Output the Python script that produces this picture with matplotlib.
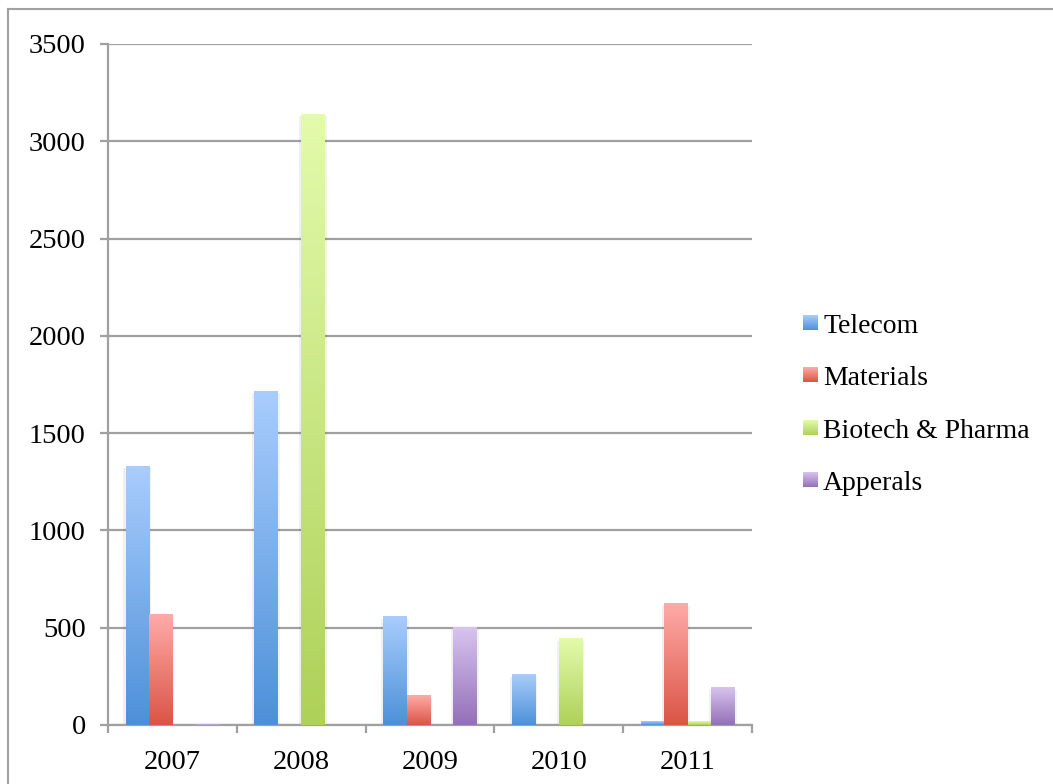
import numpy as np
import matplotlib
matplotlib.use("Agg")
import matplotlib.pyplot as plt
import matplotlib.patheffects as pe
from matplotlib.colors import LinearSegmentedColormap

years = ["2007", "2008", "2009", "2010", "2011"]
series = ["Telecom", "Materials", "Biotech & Pharma", "Apperals"]
telecom = [1331, 1716, 558, 259, 17]
materials = [568, 0, 152, 0, 624]
biotech = [0, 3140, 0, 444, 17]
apperals = [4, 0, 502, 0, 192]
values = [telecom, materials, biotech, apperals]
yticks = [0, 500, 1000, 1500, 2000, 2500, 3000, 3500]

tops = ["#a9cdfd", "#ffaba8", "#e3fbac", "#d8c4ef"]
bottoms = ["#4d90d8", "#db5446", "#aed158", "#9370b7"]

FONT = "Liberation Serif"
FS = 20.5

W, H = 1053, 784
fig = plt.figure(figsize=(W / 100, H / 100), dpi=100)
fig.patch.set_facecolor("white")

# outer frame (top and left visible)
fig.add_artist(plt.Line2D([8 / W, 1], [1 - 9 / H, 1 - 9 / H], color="#a0a0a0", lw=1.5, transform=fig.transFigure))
fig.add_artist(plt.Line2D([8 / W, 8 / W], [0, 1 - 9 / H], color="#a0a0a0", lw=1.5, transform=fig.transFigure))

ax = fig.add_axes([108 / W, 59 / H, (752 - 108) / W, (740 - 59) / H])
ax.set_xlim(-0.5, len(years) - 0.5)
ax.set_ylim(0, 3500)
ax.set_axisbelow(True)

grid_c = "#a0a0a0"
ax.yaxis.grid(True, color=grid_c, lw=1.6)
for s in ["top", "right"]:
    ax.spines[s].set_visible(False)
for s in ["left", "bottom"]:
    ax.spines[s].set_color(grid_c)
    ax.spines[s].set_linewidth(1.6)

ax.set_yticks(yticks)
ax.set_yticklabels([str(v) for v in yticks], fontfamily=FONT, fontsize=FS)
ax.set_xticks(np.arange(len(years) + 1) - 0.5)
ax.set_xticklabels([])
ax.set_xticks(np.arange(len(years)), minor=True)
ax.set_xticklabels(years, minor=True, fontfamily=FONT, fontsize=FS)
ax.tick_params(axis="x", which="major", length=6, width=1.6, color=grid_c, direction="out")
ax.tick_params(axis="x", which="minor", length=0, pad=18)
ax.tick_params(axis="y", length=6, width=1.6, color=grid_c, direction="out", pad=10)

x = np.arange(len(years))
w = 0.182
grad = np.linspace(0, 1, 256).reshape(-1, 1)
for i, (vals, name) in enumerate(zip(values, series)):
    cmap = LinearSegmentedColormap.from_list(name, [bottoms[i], tops[i]])
    bars = ax.bar(x + (i - 1.5) * w, vals, width=w, color="white", zorder=2,
                  linewidth=0)
    for b, v in zip(bars, vals):
        if v <= 0:
            b.set_visible(False)
            continue
        if v > 50:
            b.set_path_effects([pe.SimplePatchShadow(offset=(-1.5, -1.5), shadow_rgbFace="black", alpha=0.06),
                                pe.SimplePatchShadow(offset=(1.5, -1.5), shadow_rgbFace="black", alpha=0.05),
                                pe.Normal()])
        x0, y0 = b.get_x(), b.get_y()
        ax.imshow(grad, extent=[x0, x0 + b.get_width(), y0, y0 + b.get_height()],
                  origin="lower", aspect="auto", cmap=cmap, zorder=3, interpolation="bilinear")
ax.set_xlim(-0.5, len(years) - 0.5)
ax.set_ylim(0, 3500)

# legend
for i, name in enumerate(series):
    cy = 322.5 + 52.3 * i
    lax = fig.add_axes([803 / W, 1 - (cy + 7.5) / H, 15 / W, 15 / H])
    cmap = LinearSegmentedColormap.from_list(name + "l", [bottoms[i], tops[i]])
    lax.imshow(grad, origin="lower", aspect="auto", cmap=cmap, interpolation="bilinear")
    lax.set_axis_off()
    fig.text(823 / W, 1 - (333 + 52.3 * i) / H, name, fontfamily=FONT, fontsize=20,
             va="baseline", ha="left")

fig.savefig("out.png", dpi=100, facecolor="white")
